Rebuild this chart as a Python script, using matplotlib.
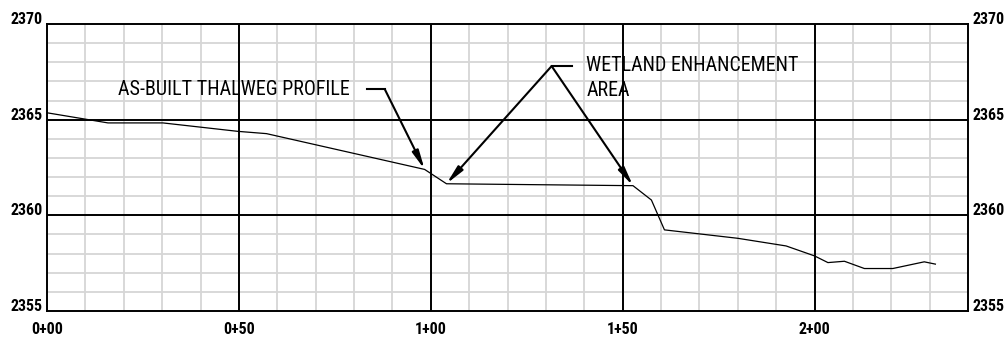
import matplotlib
matplotlib.use("Agg")
import matplotlib.pyplot as plt

# Data
station = [0, 15.9, 30.2, 49.7, 57.2, 98.4, 104.1, 152.7, 157.5, 160.9, 180.0,
           192.6, 200.0, 203.5, 207.8, 213.0, 220.4, 228.6, 231.5]
elev = [2365.36, 2364.83, 2364.83, 2364.39, 2364.27, 2362.40, 2361.65, 2361.55,
        2360.80, 2359.24, 2358.80, 2358.40, 2357.88, 2357.53, 2357.60, 2357.22,
        2357.22, 2357.57, 2357.45]
x_ticks = [0, 50, 100, 150, 200]
x_labels = ["0+00", "0+50", "1+00", "1+50", "2+00"]
y_ticks = [2355, 2360, 2365, 2370]
y_labels = ["2355", "2360", "2365", "2370"]

label_font = ["Roboto Condensed", "DejaVu Sans"]
ann_font = ["Roboto Condensed", "DejaVu Sans"]

fig = plt.figure(figsize=(10.07, 3.38), dpi=100)
ax = fig.add_axes([47/1007, 27/338, 921/1007, 287/338])
ax.set_xlim(0, 240)
ax.set_ylim(2355, 2370)

# minor grid
for xv in range(10, 240, 10):
    ax.axvline(xv, color="#d6d6d6", lw=1.3, zorder=0)
for yv in range(2356, 2370):
    ax.axhline(yv, color="#d6d6d6", lw=1.3, zorder=0)
# major grid
for xv in x_ticks[1:]:
    ax.axvline(xv, color="black", lw=1.4, zorder=1)
for yv in y_ticks[1:-1]:
    ax.axhline(yv, color="black", lw=1.4, zorder=1)

for s in ax.spines.values():
    s.set_linewidth(1.4)

ax.plot(station, elev, color="black", lw=0.9, zorder=3)

ax.set_xticks(x_ticks)
ax.set_xticklabels(x_labels, fontfamily=label_font, fontweight="bold", fontsize=11.5)
ax.tick_params(axis="x", length=0, pad=8)
ax.set_yticks(y_ticks)
ax.set_yticklabels(y_labels, fontfamily=label_font, fontweight="bold", fontsize=11.5)
ax.tick_params(axis="y", length=0, pad=3, labelleft=True, labelright=True)
for t in ax.yaxis.get_major_ticks():
    t.label1.set_verticalalignment("baseline")
    t.label2.set_verticalalignment("baseline")
    t.label2.set_fontfamily(label_font)
    t.label2.set_fontweight("bold")
    t.label2.set_fontsize(11.5)

arrow = dict(arrowstyle="-|>,head_length=1.1,head_width=0.2", color="black", lw=1.5,
             shrinkA=0, shrinkB=0)

# AS-BUILT THALWEG PROFILE
ax.text(18.5, 2366.6, "AS-BUILT THALWEG PROFILE", fontfamily=ann_font, fontweight="normal",
        fontsize=14.4, va="center", ha="left")
ax.plot([83.3, 88.0], [2366.6, 2366.6], color="black", lw=1.5)
ax.annotate("", xy=(98.4, 2362.40), xytext=(88.0, 2366.6), arrowprops=arrow)

# WETLAND ENHANCEMENT AREA
ax.text(140.5, 2367.85, "WETLAND ENHANCEMENT", fontfamily=ann_font, fontweight="normal",
        fontsize=14.4, va="center", ha="left")
ax.text(140.5, 2366.55, "AREA", fontfamily=ann_font, fontweight="normal",
        fontsize=14.4, va="center", ha="left")
ax.plot([131.5, 136.8], [2367.8, 2367.8], color="black", lw=1.5)
ax.annotate("", xy=(104.1, 2361.65), xytext=(131.5, 2367.8), arrowprops=arrow)
ax.annotate("", xy=(152.7, 2361.55), xytext=(131.5, 2367.8), arrowprops=arrow)

fig.savefig("out.png", dpi=100)
